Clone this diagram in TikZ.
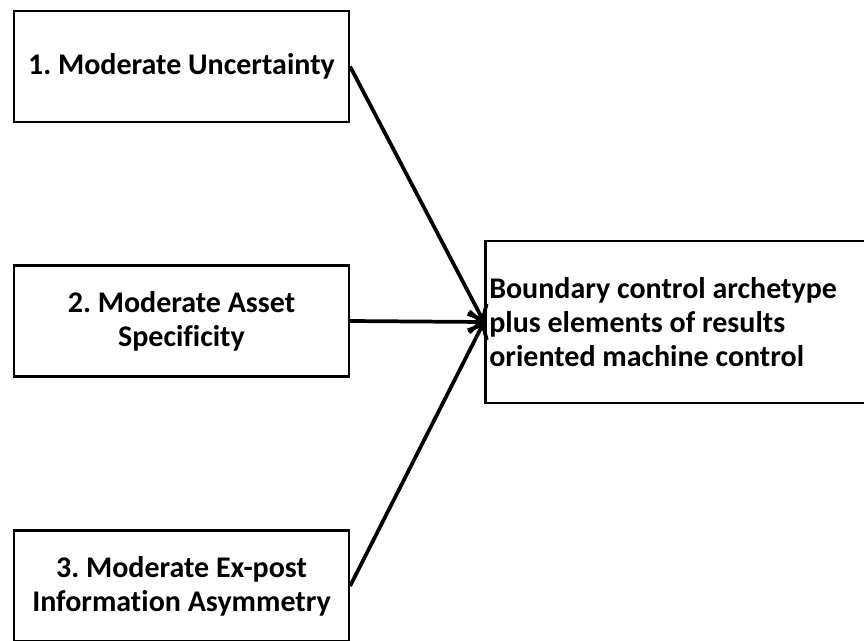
\documentclass[tikz,border=0pt]{standalone}
\usepackage{fontspec}
\setmainfont{Carlito}[RawFeature=-liga]
\usetikzlibrary{arrows.meta}
\frenchspacing
\begin{document}
\begin{tikzpicture}[x=0.75pt, y=-0.75pt,
  factor/.style={draw, line width=1.9pt, minimum width=251pt, minimum height=83pt,
    align=center, inner sep=0pt, font=\bfseries\fontsize{22.5}{25.5}\selectfont},
  link/.style={line width=2.8pt, -{Straight Barb[length=9pt, width=16pt]}}]
\useasboundingbox (0,0) rectangle (864,640);
\clip (0,0) rectangle (864,640);
\node[factor] (unc) at (181.5,66.5) {1. Moderate Uncertainty};
\node[factor] (asset) at (181.5,321) {2. Moderate Asset\\Specificity};
\node[factor] (info) at (181.5,586) {3. Moderate Ex-post\\Information Asymmetry};
\node[draw, line width=1.9pt, anchor=west, minimum height=121.5pt, text width=300pt,
  align=flush left, inner xsep=3pt, font=\bfseries\fontsize{22.5}{25.5}\selectfont] (arch) at (484,322)
{Boundary control archetype\\plus elements of results\\oriented machine control};
\draw[link] (unc.east) -- (arch.west);
\draw[link] (asset.east) -- (arch.west);
\draw[link] (info.east) -- (arch.west);
\end{tikzpicture}
\end{document}
